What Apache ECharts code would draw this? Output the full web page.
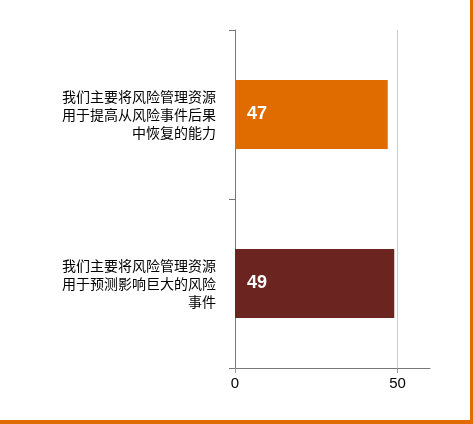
<!DOCTYPE html>
<html lang="zh">
<head>
  <meta charset="UTF-8">
  <title>bar_demo</title>
  <script src="https://cdn.jsdelivr.net/npm/echarts@6/dist/echarts.min.js"></script>
  <style>
    *{margin:0;padding:0;}
    body{width:473px;height:424px;background:#fff;}
    .container{width:473px;height:424px;}
  </style>
</head>
<body>
  <div class="container"></div>
  <script type="text/javascript">
    var categories = [
      '我们主要将风险管理资源\n用于预测影响巨大的风险\n事件',
      '我们主要将风险管理资源\n用于提高从风险事件后果\n中恢复的能力'
    ]
    var values = [49, 47]
    var colors = ['#6B2420', '#E06C00']

    const mCharts = echarts.init(document.querySelector('.container'))
    var option = {
      animation: false,
      grid: { left: 235, right: 43, top: 30, bottom: 56 },
      xAxis: {
        type: 'value',
        min: 0,
        max: 60,
        interval: 50,
        axisLine: { show: true, lineStyle: { color: '#777' } },
        axisTick: { show: true, length: 5, lineStyle: { color: '#999' } },
        axisLabel: { showMaxLabel: false, color: '#000', fontSize: 15, margin: 8, fontFamily: 'Liberation Sans' },
        splitLine: { show: true, showMinLine: false, showMaxLine: false, lineStyle: { color: '#ccc' } }
      },
      yAxis: {
        type: 'category',
        data: categories,
        axisLine: { show: true, lineStyle: { color: '#777' } },
        axisTick: { show: true, length: 6, lineStyle: { color: '#777' } },
        axisLabel: { color: '#000', fontSize: 14, lineHeight: 18, margin: 19, align: 'right', fontFamily: 'Noto Sans CJK SC' }
      },
      series: [{
        type: 'bar',
        barWidth: 69,
        data: values.map((v, i) => ({ value: v, itemStyle: { color: colors[i] } })),
        label: {
          show: true,
          position: 'insideLeft',
          distance: 12,
          color: '#fff',
          fontSize: 18,
          fontWeight: 'bold',
          fontFamily: 'Liberation Sans'
        }
      }],
      graphic: [
        { type: 'rect', shape: { x: 0, y: 420, width: 473, height: 4 }, style: { fill: '#E06C00' } },
        { type: 'rect', shape: { x: 470, y: 0, width: 3, height: 424 }, style: { fill: '#E06C00' } }
      ]
    }
    mCharts.setOption(option)
    window.onresize = mCharts.resize
  </script>
</body>
</html>
